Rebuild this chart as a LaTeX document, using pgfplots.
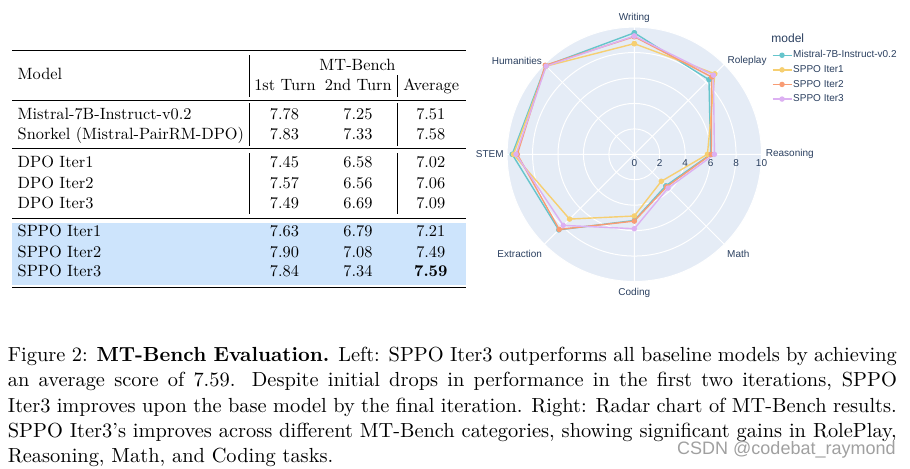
\documentclass[border=0pt]{standalone}
\usepackage{fontspec}
\usepackage{graphicx}
\usepackage{pgfplots}
\pgfplotsset{compat=1.18}
\usepgfplotslibrary{polar}
\newfontfamily\plotfont{Liberation Sans}
\definecolor{c1}{RGB}{102,197,204}
\definecolor{c2}{RGB}{246,207,113}
\definecolor{c3}{RGB}{248,156,116}
\definecolor{c4}{RGB}{220,176,242}
\definecolor{plotbg}{HTML}{E5ECF6}
\definecolor{textc}{HTML}{2A3F5F}
\definecolor{rowblue}{RGB}{205,228,252}
\definecolor{wm}{RGB}{160,160,160}
\newcommand\ts[1]{\scalebox{0.817}{#1}}
\newcommand\cf{\fontsize{10.2}{12.6}\selectfont}
\begin{document}
\begin{tikzpicture}
\begin{scope}[x=0.5pt,y=-0.5pt]
% ---------- table ----------
\fill[rowblue] (12,222.7) rectangle (466,285);
\draw[line width=0.6pt] (12,50.7) -- (466,50.7);
\draw[line width=0.35pt] (12,100) -- (466,100);
\draw[line width=0.35pt] (12,148.3) -- (466,148.3);
\draw[line width=0.35pt] (12,218.3) -- (466,218.3);
\draw[line width=0.6pt] (12,287.3) -- (466,287.3);
\draw[line width=0.35pt] (249,55) -- (249,96.7);
\draw[line width=0.35pt] (249,103.3) -- (249,146);
\draw[line width=0.35pt] (249,153.3) -- (249,214);
\draw[line width=0.35pt] (397,75) -- (397,96.7);
\draw[line width=0.35pt] (397,103.3) -- (397,146);
\draw[line width=0.35pt] (397,153.3) -- (397,214);
\tikzset{tc/.style={anchor=base,inner sep=0pt,font=\fontsize{10}{12}\selectfont},tl/.style={anchor=base west,inner sep=0pt,font=\fontsize{10}{12}\selectfont}}
\node[tl] at (17.3,79.5) {\ts{Model}};
\node[tc] at (357.5,70) {\ts{MT-Bench}};
\node[tc] at (285,90) {\ts{1st Turn}};
\node[tc] at (358.3,90) {\ts{2nd Turn}};
\node[tc] at (431.2,90) {\ts{Average}};
\foreach \y/\m/\a/\b/\c in {119/Mistral-7B-Instruct-v0.2/7.78/7.25/7.51,
  139/Snorkel (Mistral-PairRM-DPO)/7.83/7.33/7.58,
  167.7/DPO Iter1/7.45/6.58/7.02,
  188.3/DPO Iter2/7.57/6.56/7.06,
  208.3/DPO Iter3/7.49/6.69/7.09,
  236.7/SPPO Iter1/7.63/6.79/7.21,
  257.3/SPPO Iter2/7.90/7.08/7.49}{
  \node[tl] at (17.3,\y) {\ts{\m}};
  \node[tc] at (284.5,\y) {\ts{\a}};
  \node[tc] at (358,\y) {\ts{\b}};
  \node[tc] at (430.8,\y) {\ts{\c}};
}
\node[tl] at (17.3,276.7) {\ts{SPPO Iter3}};
\node[tc] at (284.5,276.7) {\ts{7.84}};
\node[tc] at (358,276.7) {\ts{7.34}};
\node[tc] at (430.8,276.7) {\ts{\textbf{7.59}}};
% ---------- caption ----------
\tikzset{capline/.style={anchor=base west,inner sep=0pt,font=\cf}}
\node[capline] at (7.5,361.7) {\makebox[444.5pt][s]{Figure 2: \textbf{MT-Bench Evaluation.} Left: SPPO Iter3 outperforms all baseline models by achieving}};
\node[capline] at (7.5,386.9) {\makebox[444.5pt][s]{an average score of 7.59. Despite initial drops in performance in the first two iterations, SPPO}};
\node[capline] at (7.5,412.1) {\makebox[444.5pt][s]{Iter3 improves upon the base model by the final iteration. Right: Radar chart of MT-Bench results.}};
\node[capline] at (7.5,437.3) {\makebox[444.5pt][s]{SPPO Iter3’s improves across different MT-Bench categories, showing significant gains in RolePlay,}};
\node[capline] at (7.5,462.5) {Reasoning, Math, and Coding tasks.};
\node[anchor=base east,inner sep=0pt,text=wm,font=\plotfont\fontsize{9}{10}\selectfont] at (896,454) {CSDN @codebat\_raymond};
% ---------- radar helpers ----------
\fill[plotbg] (634.3,154.3) circle[radius=63.6pt];
\coordinate (radarc) at (634.3,154.3);
\node[anchor=base west,inner sep=0pt,text=textc,font=\plotfont\fontsize{6}{7}\selectfont] at (771,42.5) {model};
\end{scope}
\begin{polaraxis}[
  at={(radarc)}, anchor=origin,
  width=127.2pt, height=127.2pt, scale only axis,
  clip=false,
  ymin=0, ymax=10, ytick={0,2,4,6,8,10},
  xtick={0,45,...,315},
  xticklabels={},
  grid=major, major grid style={white, line width=0.5pt},
  axis line style={draw=none},
  major tick length=0pt,
  ticklabel style={font=\plotfont\fontsize{5}{6}\selectfont, text=textc},
  /pgf/number format/assume math mode=true,
  yticklabel style={anchor=north, yshift=1pt},
  legend image code/.code={\draw[mark repeat=2,mark phase=2,#1] plot coordinates {(0cm,0cm) (0.167cm,0cm) (0.334cm,0cm)};},
  legend style={at={(axis description cs:1.039,0.913)}, anchor=north west, draw=none, fill=none,
    font=\plotfont\fontsize{5}{6}\selectfont, text=textc, cells={anchor=west},
    row sep=1.7pt, inner sep=0pt, nodes={inner sep=0.5pt, text height=3.6pt, text depth=1pt}},
  every axis plot/.append style={line width=0.7pt, mark=*, mark size=1.0pt},
]
\addplot[c1, mark options={fill=c1}] coordinates {(90,9.55) (45,8.3) (0,6.0) (-45,3.5) (-90,5.2) (-135,8.4) (-180,9.6) (-225,9.85) (-270,9.55)};
\addlegendentry{Mistral-7B-Instruct-v0.2}
\addplot[c2, mark options={fill=c2}] coordinates {(90,8.7) (45,8.95) (0,5.75) (-45,3.0) (-90,4.85) (-135,7.2) (-180,9.5) (-225,9.8) (-270,8.7)};
\addlegendentry{SPPO Iter1}
\addplot[c3, mark options={fill=c3}] coordinates {(90,9.25) (45,8.6) (0,6.05) (-45,3.6) (-90,5.25) (-135,8.35) (-180,9.2) (-225,9.9) (-270,9.25)};
\addlegendentry{SPPO Iter2}
\addplot[c4, mark options={fill=c4}] coordinates {(90,9.3) (45,8.8) (0,6.3) (-45,3.75) (-90,5.85) (-135,7.9) (-180,9.3) (-225,9.8) (-270,9.3)};
\addlegendentry{SPPO Iter3}
\begin{scope}[every node/.style={inner sep=0pt, font=\plotfont\fontsize{5}{6}\selectfont, text=textc}]
\node[anchor=south, yshift=2pt] at (axis cs:90,10) {Writing};
\node[anchor=west, xshift=1.5pt, yshift=1.5pt] at (axis cs:45,10) {Roleplay};
\node[anchor=west, xshift=2pt] at (axis cs:0,10) {Reasoning};
\node[anchor=north west, xshift=1.3pt, yshift=-3pt] at (axis cs:315,10) {Math};
\node[anchor=north, yshift=-3.3pt] at (axis cs:270,10) {Coding};
\node[anchor=north east, xshift=-1pt, yshift=-3pt] at (axis cs:225,10) {Extraction};
\node[anchor=east, xshift=-1.5pt] at (axis cs:180,10) {STEM};
\node[anchor=east, xshift=-1pt, yshift=1.8pt] at (axis cs:135,10) {Humanities};
\end{scope}
\end{polaraxis}
\pgfresetboundingbox
\path[use as bounding box] (0,0) rectangle (455pt,-234pt);
\end{tikzpicture}
\end{document}
